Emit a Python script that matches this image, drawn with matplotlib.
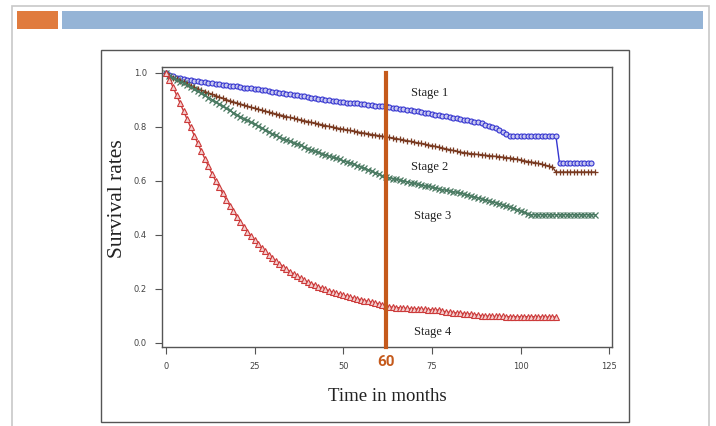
import matplotlib.pyplot as plt
from matplotlib.patches import Rectangle

# survival estimates, one value per month
months_1 = list(range(0, 121))
stage_1 = [1.000, 0.992, 0.987, 0.983, 0.980, 0.978, 0.975, 0.973, 0.971, 0.969,
           0.967, 0.965, 0.963, 0.961, 0.960, 0.958, 0.956, 0.955, 0.953, 0.951,
           0.950, 0.948, 0.946, 0.944, 0.943, 0.941, 0.939, 0.937, 0.935, 0.933,
           0.931, 0.929, 0.927, 0.925, 0.923, 0.921, 0.919, 0.917, 0.915, 0.913,
           0.911, 0.909, 0.907, 0.905, 0.903, 0.901, 0.899, 0.897, 0.895, 0.893,
           0.892, 0.890, 0.889, 0.888, 0.887, 0.886, 0.884, 0.882, 0.880, 0.879,
           0.878, 0.877, 0.876, 0.874, 0.872, 0.870, 0.868, 0.866, 0.864, 0.862,
           0.860, 0.858, 0.856, 0.853, 0.850, 0.848, 0.846, 0.844, 0.842, 0.840,
           0.837, 0.834, 0.832, 0.829, 0.826, 0.824, 0.822, 0.820, 0.817, 0.813,
           0.809, 0.805, 0.800, 0.795, 0.789, 0.782, 0.774, 0.765, 0.765, 0.765,
           0.765, 0.765, 0.765, 0.765, 0.765, 0.765, 0.765, 0.765, 0.765, 0.765,
           0.765, 0.667, 0.667, 0.667, 0.667, 0.667, 0.667, 0.667, 0.667, 0.667,
           0.667]

months_2 = list(range(0, 122))
stage_2 = [1.000, 0.990, 0.982, 0.976, 0.970, 0.965, 0.959, 0.953, 0.947, 0.941,
           0.936, 0.931, 0.926, 0.921, 0.916, 0.911, 0.906, 0.901, 0.897, 0.893,
           0.889, 0.885, 0.881, 0.877, 0.873, 0.869, 0.866, 0.862, 0.859, 0.855,
           0.852, 0.848, 0.845, 0.842, 0.838, 0.835, 0.832, 0.829, 0.826, 0.823,
           0.820, 0.817, 0.814, 0.811, 0.808, 0.805, 0.802, 0.799, 0.797, 0.794,
           0.792, 0.789, 0.787, 0.784, 0.782, 0.779, 0.777, 0.775, 0.772, 0.770,
           0.768, 0.766, 0.763, 0.761, 0.759, 0.757, 0.754, 0.752, 0.749, 0.747,
           0.744, 0.741, 0.739, 0.736, 0.733, 0.731, 0.728, 0.725, 0.722, 0.719,
           0.716, 0.713, 0.710, 0.707, 0.705, 0.703, 0.701, 0.700, 0.698, 0.697,
           0.695, 0.694, 0.692, 0.691, 0.690, 0.688, 0.686, 0.685, 0.683, 0.681,
           0.678, 0.675, 0.672, 0.670, 0.668, 0.665, 0.662, 0.658, 0.655, 0.652,
           0.633, 0.633, 0.633, 0.633, 0.633, 0.633, 0.633, 0.633, 0.633, 0.633,
           0.633, 0.633]

months_3 = list(range(0, 122))
stage_3 = [1.000, 0.990, 0.982, 0.975, 0.968, 0.962, 0.955, 0.948, 0.940, 0.932,
           0.925, 0.917, 0.909, 0.901, 0.893, 0.885, 0.877, 0.869, 0.861, 0.853,
           0.845, 0.838, 0.831, 0.824, 0.817, 0.810, 0.803, 0.796, 0.789, 0.782,
           0.775, 0.769, 0.763, 0.757, 0.752, 0.747, 0.742, 0.737, 0.732, 0.726,
           0.720, 0.715, 0.710, 0.706, 0.701, 0.697, 0.692, 0.688, 0.684, 0.680,
           0.675, 0.671, 0.667, 0.662, 0.657, 0.652, 0.647, 0.642, 0.636, 0.631,
           0.626, 0.620, 0.615, 0.612, 0.609, 0.606, 0.603, 0.600, 0.597, 0.594,
           0.591, 0.588, 0.585, 0.582, 0.580, 0.577, 0.574, 0.571, 0.568, 0.565,
           0.563, 0.560, 0.558, 0.555, 0.552, 0.548, 0.544, 0.541, 0.537, 0.534,
           0.530, 0.527, 0.523, 0.520, 0.516, 0.512, 0.508, 0.504, 0.499, 0.494,
           0.489, 0.484, 0.479, 0.475, 0.475, 0.475, 0.475, 0.475, 0.475, 0.475,
           0.475, 0.475, 0.475, 0.475, 0.475, 0.475, 0.475, 0.475, 0.475, 0.475,
           0.475, 0.475]

months_4 = list(range(0, 111))
stage_4 = [1.000, 0.975, 0.948, 0.918, 0.888, 0.858, 0.828, 0.798, 0.768, 0.739,
           0.710, 0.682, 0.654, 0.627, 0.601, 0.577, 0.554, 0.531, 0.509, 0.488,
           0.467, 0.448, 0.430, 0.412, 0.396, 0.380, 0.366, 0.352, 0.339, 0.327,
           0.315, 0.304, 0.293, 0.283, 0.273, 0.264, 0.255, 0.247, 0.240, 0.233,
           0.226, 0.220, 0.214, 0.208, 0.203, 0.198, 0.193, 0.189, 0.185, 0.181,
           0.177, 0.173, 0.170, 0.166, 0.163, 0.160, 0.157, 0.154, 0.151, 0.148,
           0.145, 0.141, 0.137, 0.134, 0.132, 0.131, 0.130, 0.129, 0.128, 0.127,
           0.126, 0.126, 0.125, 0.124, 0.123, 0.123, 0.122, 0.122, 0.118, 0.115,
           0.113, 0.112, 0.111, 0.110, 0.109, 0.108, 0.107, 0.105, 0.103, 0.101,
           0.100, 0.099, 0.099, 0.098, 0.098, 0.098, 0.097, 0.097, 0.097, 0.097,
           0.097, 0.097, 0.097, 0.097, 0.097, 0.097, 0.096, 0.096, 0.096, 0.096,
           0.096]

x_ticks = [0, 25, 50, 75, 100, 125]
y_ticks = [0.0, 0.2, 0.4, 0.6, 0.8, 1.0]
cutoff = 62          # where the orange marker line sits on the picture
cutoff_label = "60"

fig = plt.figure(figsize=(7.16, 4.26), dpi=100)

# slide decoration
fig.patches.append(Rectangle((12 / 716, -0.1), 697 / 716, 1.1 - 6 / 426, transform=fig.transFigure,
                             fill=False, edgecolor="#c8c8c8", linewidth=1.2))
fig.patches.append(Rectangle((17 / 716, 1 - 29 / 426), 41 / 716, 18 / 426, transform=fig.transFigure,
                             facecolor="#e07b3e", edgecolor="none"))
fig.patches.append(Rectangle((62 / 716, 1 - 29 / 426), 641 / 716, 18 / 426, transform=fig.transFigure,
                             facecolor="#95b4d6", edgecolor="none"))
fig.patches.append(Rectangle((101 / 716, 1 - 422 / 426), 528 / 716, 372 / 426, transform=fig.transFigure,
                             fill=False, edgecolor="#555555", linewidth=1.0))

ax = fig.add_axes([162 / 716, 79 / 426, 450 / 716, 280 / 426])

ax.plot(months_1, stage_1, color="#3535d0", linewidth=1.0, marker="o", markersize=3.6,
        markerfacecolor="#c8c8f0", markeredgecolor="#3535d0", markeredgewidth=0.8)
ax.plot(months_2, stage_2, color="#7a3b22", linewidth=1.0, marker="+", markersize=5,
        markeredgewidth=0.9)
ax.plot(months_3, stage_3, color="#4a7a62", linewidth=1.0, marker="x", markersize=4.2,
        markeredgewidth=0.9)
ax.plot(months_4, stage_4, color="#cc3a3a", linewidth=1.0, marker="^", markersize=3.8,
        markerfacecolor="#f4d0d0", markeredgecolor="#cc3a3a", markeredgewidth=0.8)

ax.plot([cutoff, cutoff], [1.0, -0.015], color="#c55a1c", linewidth=3, clip_on=False, zorder=5)

ax.set_xlim(-1.1, 125.8)
ax.set_ylim(-0.015, 1.022)
ax.set_xticks(x_ticks)
ax.set_yticks(y_ticks)
ax.set_xticklabels([str(t) for t in x_ticks])
ax.set_yticklabels([f"{t:.1f}" for t in y_ticks])
ax.tick_params(direction="out", length=5, width=0.8, colors="#555555", labelsize=6,
               labelcolor="#444444", pad=6)
for s in ax.spines.values():
    s.set_color("#555555")
    s.set_linewidth(1.0)

serif = ["Liberation Serif", "DejaVu Serif"]
ax.set_xlabel("Time in months", family=serif, fontsize=13.5, color="#222222", labelpad=12)
ax.set_ylabel("Survival rates", family=serif, fontsize=15.5, color="#222222")
ax.yaxis.set_label_coords(-0.078, 0.53)

ax.text(cutoff, -0.045, cutoff_label, color="#c55a1c", fontsize=11, fontweight="bold",
        ha="center", va="top", family=["Roboto", "DejaVu Sans"])

ax.text(69, 0.925, "Stage 1", family=serif, fontsize=9, color="#222222", ha="left", va="center")
ax.text(69, 0.65, "Stage 2", family=serif, fontsize=9, color="#222222", ha="left", va="center")
ax.text(70, 0.47, "Stage 3", family=serif, fontsize=9, color="#222222", ha="left", va="center")
ax.text(70, 0.04, "Stage 4", family=serif, fontsize=9, color="#222222", ha="left", va="center")

fig.savefig("out.png", dpi=100)
